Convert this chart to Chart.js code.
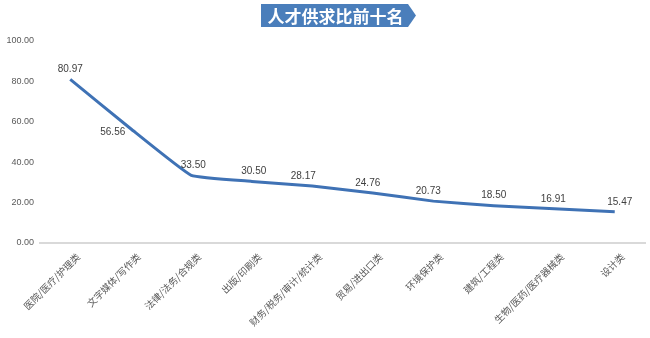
<!DOCTYPE html>
<html>
<head>
<meta charset="utf-8">
<script src="https://cdn.jsdelivr.net/npm/chart.js@4"></script>
<style>
  html, body { margin: 0; padding: 0; background: #ffffff; }
  #wrap { width: 650px; height: 338px; position: relative; }
</style>
</head>
<body>
<div id="wrap"><canvas id="c" width="650" height="338"></canvas></div>
<script>
// 人才供求比前十名
const titleText = '人才供求比前十名';
const categories = ['医院/医疗/护理类', '文字媒体/写作类', '法律/法务/合规类', '出版/印刷类',
  '财务/税务/审计/统计类', '贸易/进出口类', '环境保护类', '建筑/工程类', '生物/医药/医疗器械类', '设计类'];
const ratios = [80.97, 56.56, 33.50, 30.50, 28.17, 24.76, 20.73, 18.50, 16.91, 15.47];
const yTicks = [0, 20, 40, 60, 80, 100];

// per-point label nudges [dx, dy] relative to the point
const labelNudge = [[0, -10], [-18, 4], [2, -10], [2, -10], [-9, -10], [-5, -10], [-5, -10], [0, -10], [-1, -10], [5, -10]];

const titleBanner = {
  id: 'titleBanner',
  afterDraw(chart) {
    const ctx = chart.ctx;
    const x0 = 261, x1 = 408, tip = 416, y0 = 4, y1 = 27;
    ctx.save();
    ctx.fillStyle = '#4a7ebb';
    ctx.beginPath();
    ctx.moveTo(x0, y0);
    ctx.lineTo(x1, y0);
    ctx.lineTo(tip, (y0 + y1) / 2);
    ctx.lineTo(x1, y1);
    ctx.lineTo(x0, y1);
    ctx.closePath();
    ctx.fill();
    ctx.fillStyle = '#ffffff';
    ctx.font = 'bold 17px "Noto Sans CJK SC"';
    ctx.textAlign = 'center';
    ctx.textBaseline = 'middle';
    ctx.fillText(titleText, (x0 + x1) / 2 + 1, (y0 + y1) / 2 + 1);
    ctx.restore();
  }
};

const valueLabels = {
  id: 'valueLabels',
  afterDatasetsDraw(chart) {
    const ctx = chart.ctx;
    const meta = chart.getDatasetMeta(0);
    ctx.save();
    ctx.fillStyle = '#404040';
    ctx.font = '10px "Liberation Sans"';
    ctx.textAlign = 'center';
    ctx.textBaseline = 'middle';
    meta.data.forEach((pt, i) => {
      const n = labelNudge[i] || [0, -10];
      ctx.fillText(ratios[i].toFixed(2), pt.x + n[0], pt.y + n[1]);
    });
    ctx.restore();
  }
};

new Chart(document.getElementById('c'), {
  type: 'line',
  data: {
    labels: categories,
    datasets: [{
      data: ratios,
      borderColor: '#3f72b5',
      borderWidth: 3,
      pointRadius: 0,
      pointHoverRadius: 0,
      tension: 0.1,
      fill: false
    }]
  },
  options: {
    responsive: false,
    animation: false,
    devicePixelRatio: 1,
    layout: { padding: { top: 41, right: 5, bottom: 0, left: 0 } },
    plugins: { legend: { display: false }, tooltip: { enabled: false }, title: { display: false } },
    scales: {
      x: {
        offset: true,
        grid: { display: false, drawTicks: false },
        border: { display: true, color: '#d9d9d9', width: 2 },
        ticks: {
          minRotation: 45, maxRotation: 45, autoSkip: false,
          color: '#595959', padding: 8, labelOffset: 8,
          font: { size: 9.6, family: '"Noto Sans CJK SC"' }
        },
        afterFit(scale) { scale.height = 95; }
      },
      y: {
        min: 0, max: 100,
        afterBuildTicks(scale) { scale.ticks = yTicks.map(v => ({ value: v })); },
        grid: { display: false, drawTicks: false },
        border: { display: false },
        ticks: {
          color: '#595959', padding: 6,
          font: { size: 9, family: '"Liberation Sans"' },
          callback: v => Number(v).toFixed(2)
        },
        afterFit(scale) { scale.width = 40; }
      }
    }
  },
  plugins: [titleBanner, valueLabels]
});
</script>
</body>
</html>
